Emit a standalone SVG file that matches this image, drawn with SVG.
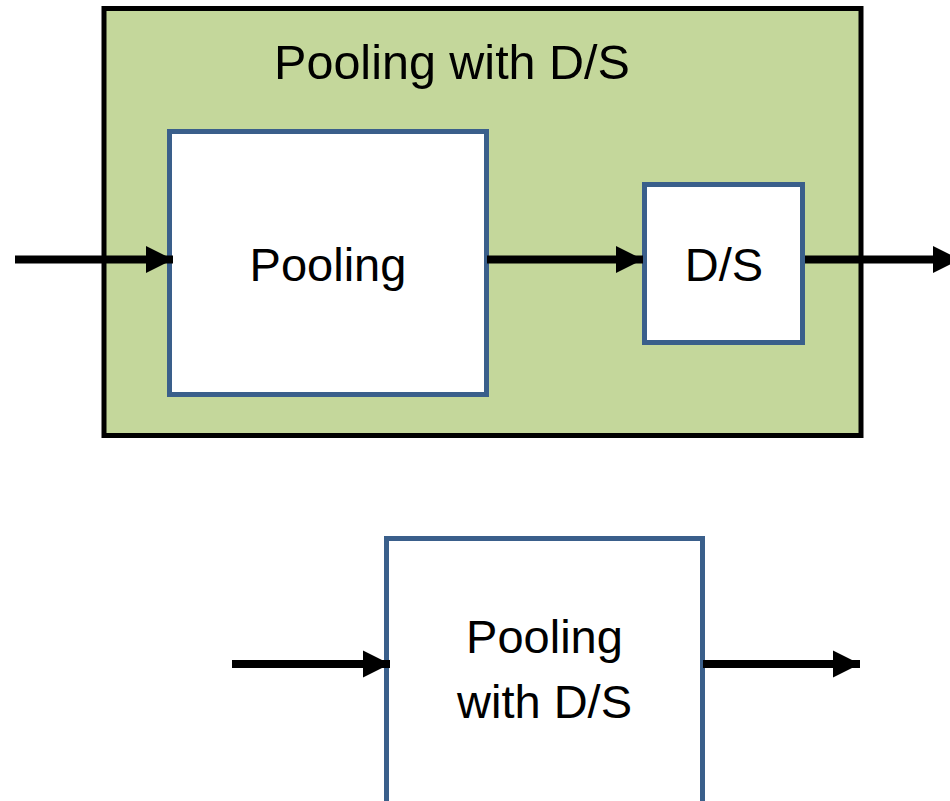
<svg xmlns="http://www.w3.org/2000/svg" width="950" height="801" viewBox="0 0 950 801">
<style>
.lbl{font-family:"Liberation Sans",Arial,sans-serif;font-size:47px;fill:#000;text-anchor:middle}
.blk{fill:#fff;stroke:#3A5F8B;stroke-width:5}
.conn{stroke:#000;stroke-width:8;fill:none}
</style>
<defs>
<marker id="ah" markerUnits="userSpaceOnUse" markerWidth="28" markerHeight="28" refX="27" refY="13.5" orient="auto" overflow="visible">
<path d="M0,0 L27,13.5 L0,27 Z" fill="#000"/>
</marker>
</defs>
<rect width="950" height="801" fill="#fff"/>
<g id="outer">
<rect x="104" y="8.5" width="757" height="427" fill="#C4D79B" stroke="#000" stroke-width="5"/>
<text class="lbl" x="452" y="79" style="font-size:48.5px">Pooling with D/S</text>
</g>
<g id="pooling">
<rect class="blk" x="169.5" y="131.5" width="317" height="263"/>
<text class="lbl" x="328" y="281">Pooling</text>
</g>
<g id="ds">
<rect class="blk" x="644.5" y="184.5" width="158" height="158"/>
<text class="lbl" x="724" y="281">D/S</text>
</g>
<g id="pooling_ds">
<rect class="blk" x="386.5" y="538.5" width="316" height="270"/>
<text class="lbl" x="544.5" y="653">Pooling</text>
<text class="lbl" x="544.5" y="718">with D/S</text>
</g>
<g id="connectors">
<line class="conn" x1="15" y1="259.5" x2="173" y2="259.5" marker-end="url(#ah)"/>
<line class="conn" x1="487" y1="259.5" x2="643" y2="259.5" marker-end="url(#ah)"/>
<line class="conn" x1="805" y1="259.5" x2="960" y2="259.5" marker-end="url(#ah)"/>
<line class="conn" x1="232" y1="664" x2="390" y2="664" marker-end="url(#ah)"/>
<line class="conn" x1="703" y1="664" x2="860" y2="664" marker-end="url(#ah)"/>
</g>
</svg>
